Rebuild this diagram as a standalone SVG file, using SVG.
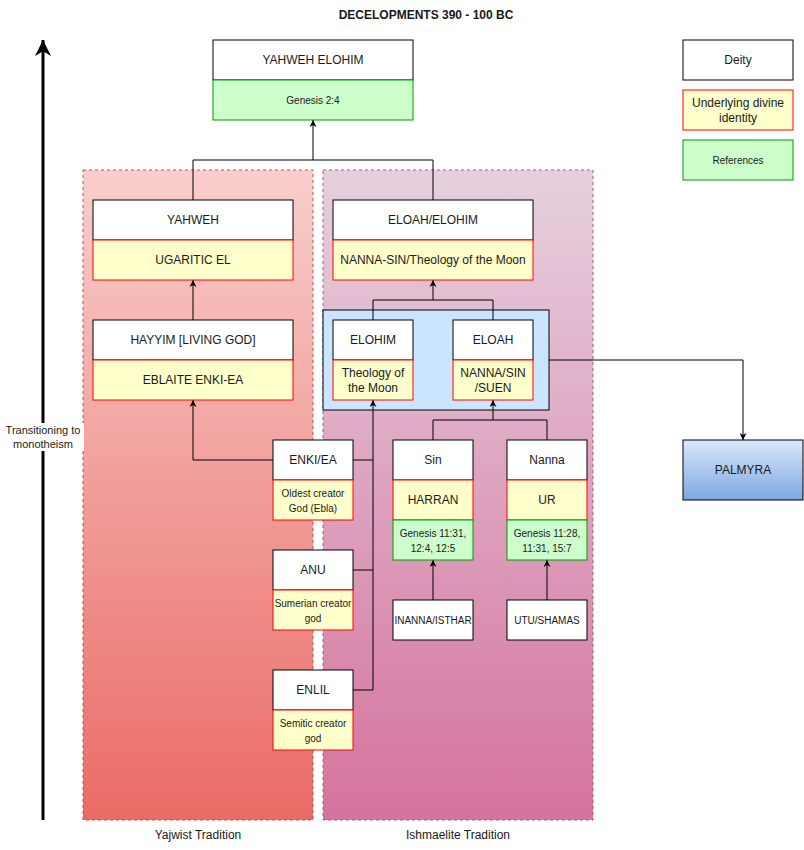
<svg xmlns="http://www.w3.org/2000/svg" width="804" height="850" viewBox="0 0 804 850">
<style>
text{font-family:"Liberation Sans",Arial,sans-serif;fill:#1a1a1a;text-anchor:middle;dominant-baseline:central}
.t12{font-size:12px}
.t10{font-size:10px}
.t11{font-size:11px}
.w{fill:#ffffff;stroke:#000000;stroke-width:1}
.y{fill:#ffffcc;stroke:#ff0000;stroke-width:1}
.g{fill:#ccffcc;stroke:#009900;stroke-width:1}
.c{fill:none;stroke:#000000;stroke-width:1}
</style>
<defs>
<linearGradient id="gl" x1="0" y1="0" x2="0" y2="1"><stop offset="0" stop-color="#f8cecc"/><stop offset="1" stop-color="#ea6b66"/></linearGradient>
<linearGradient id="gr" x1="0" y1="0" x2="0" y2="1"><stop offset="0" stop-color="#e6d0de"/><stop offset="1" stop-color="#d5739d"/></linearGradient>
<linearGradient id="gb" x1="0" y1="0" x2="0" y2="1"><stop offset="0" stop-color="#dae8fc"/><stop offset="1" stop-color="#7ea6e0"/></linearGradient>
<marker id="ah" viewBox="0 0 10 10" refX="10" refY="5" markerWidth="7" markerHeight="7" markerUnits="userSpaceOnUse" orient="auto"><path d="M0,0 L10,5 L0,10 L3,5 Z" fill="#000"/></marker>
<marker id="ahb" viewBox="0 0 10 10" refX="10" refY="5" markerWidth="16" markerHeight="16" markerUnits="userSpaceOnUse" orient="auto"><path d="M0,0 L10,5 L0,10 L3,5 Z" fill="#000"/></marker>
</defs>
<rect width="804" height="850" fill="#ffffff"/>
<text x="426" y="15" style="font-size:12px;font-weight:bold">DECELOPMENTS 390 - 100 BC</text>

<g id="panel-yajwist">
<rect x="83" y="170" width="230" height="650" fill="url(#gl)" stroke="#b85450" stroke-dasharray="3,3"/>
<text class="t12" x="198" y="835">Yajwist Tradition</text>
</g>
<g id="panel-ishmaelite">
<rect x="323" y="170" width="270" height="650" fill="url(#gr)" stroke="#996185" stroke-dasharray="3,3"/>
<text class="t12" x="458" y="835">Ishmaelite Tradition</text>
</g>

<g id="transition">
<line x1="43" y1="820" x2="43" y2="40" stroke="#000" stroke-width="3" marker-end="url(#ahb)"/>
<rect x="2" y="423" width="82" height="28" fill="#ffffff"/>
<text class="t11" x="43" y="430">Transitioning to</text>
<text class="t11" x="43" y="444">monotheism</text>
</g>

<g id="moon-group">
<rect x="323" y="310" width="226" height="100" fill="#cce5ff" stroke="#000"/>
</g>

<g id="connectors">
<polyline class="c" points="193,200 193,160 433,160 433,200"/>
<line class="c" x1="313" y1="160" x2="313" y2="120" marker-end="url(#ah)"/>
<line class="c" x1="193" y1="320" x2="193" y2="280" marker-end="url(#ah)"/>
<polyline class="c" points="273,460 193,460 193,400" marker-end="url(#ah)"/>
<polyline class="c" points="373,320 373,300 493,300 493,320"/>
<line class="c" x1="433" y1="300" x2="433" y2="280" marker-end="url(#ah)"/>
<polyline class="c" points="353,460 373,460"/>
<polyline class="c" points="353,570 373,570"/>
<polyline class="c" points="353,690 373,690 373,400" marker-end="url(#ah)"/>
<polyline class="c" points="433,440 433,420 547,420 547,440"/>
<line class="c" x1="493" y1="420" x2="493" y2="400" marker-end="url(#ah)"/>
<line class="c" x1="433" y1="600" x2="433" y2="560" marker-end="url(#ah)"/>
<line class="c" x1="547" y1="600" x2="547" y2="560" marker-end="url(#ah)"/>
<polyline class="c" points="549,360 743,360 743,440" marker-end="url(#ah)"/>
</g>

<g id="yahweh-elohim">
<rect class="w" x="213" y="40" width="200" height="40"/>
<text class="t12" x="313" y="60">YAHWEH ELOHIM</text>
<rect class="g" x="213" y="80" width="200" height="40"/>
<text class="t10" x="313" y="100">Genesis 2:4</text>
</g>

<g id="yahweh">
<rect class="w" x="93" y="200" width="200" height="40"/>
<text class="t12" x="193" y="220">YAHWEH</text>
<rect class="y" x="93" y="240" width="200" height="40"/>
<text class="t12" x="193" y="260">UGARITIC EL</text>
</g>

<g id="hayyim">
<rect class="w" x="93" y="320" width="200" height="40"/>
<text class="t12" x="193" y="340">HAYYIM [LIVING GOD]</text>
<rect class="y" x="93" y="360" width="200" height="40"/>
<text class="t12" x="193" y="380">EBLAITE ENKI-EA</text>
</g>

<g id="eloah-elohim">
<rect class="w" x="333" y="200" width="200" height="40"/>
<text class="t12" x="433" y="220">ELOAH/ELOHIM</text>
<rect class="y" x="333" y="240" width="200" height="40"/>
<text class="t12" x="433" y="260">NANNA-SIN/Theology of the Moon</text>
</g>

<g id="elohim">
<rect class="w" x="333" y="320" width="80" height="40"/>
<text class="t12" x="373" y="340">ELOHIM</text>
<rect class="y" x="333" y="360" width="80" height="40"/>
<text class="t12" x="373" y="373">Theology of</text>
<text class="t12" x="373" y="388">the Moon</text>
</g>

<g id="eloah">
<rect class="w" x="453" y="320" width="80" height="40"/>
<text class="t12" x="493" y="340">ELOAH</text>
<rect class="y" x="453" y="360" width="80" height="40"/>
<text class="t12" x="493" y="373">NANNA/SIN</text>
<text class="t12" x="493" y="388">/SUEN</text>
</g>

<g id="enki">
<rect class="w" x="273" y="440" width="80" height="40"/>
<text class="t12" x="313" y="460">ENKI/EA</text>
<rect class="y" x="273" y="480" width="80" height="40"/>
<text class="t10" x="313" y="493">Oldest creator</text>
<text class="t10" x="313" y="508">God (Ebla)</text>
</g>

<g id="anu">
<rect class="w" x="273" y="550" width="80" height="40"/>
<text class="t12" x="313" y="570">ANU</text>
<rect class="y" x="273" y="590" width="80" height="40"/>
<text class="t10" x="313" y="603">Sumerian creator</text>
<text class="t10" x="313" y="618">god</text>
</g>

<g id="enlil">
<rect class="w" x="273" y="670" width="80" height="40"/>
<text class="t12" x="313" y="690">ENLIL</text>
<rect class="y" x="273" y="710" width="80" height="40"/>
<text class="t10" x="313" y="723">Semitic creator</text>
<text class="t10" x="313" y="738">god</text>
</g>

<g id="sin">
<rect class="w" x="393" y="440" width="80" height="40"/>
<text class="t12" x="433" y="460">Sin</text>
<rect class="y" x="393" y="480" width="80" height="40"/>
<text class="t12" x="433" y="500">HARRAN</text>
<rect class="g" x="393" y="520" width="80" height="40"/>
<text class="t10" x="433" y="533">Genesis 11:31,</text>
<text class="t10" x="433" y="548">12:4, 12:5</text>
</g>

<g id="nanna">
<rect class="w" x="507" y="440" width="80" height="40"/>
<text class="t12" x="547" y="460">Nanna</text>
<rect class="y" x="507" y="480" width="80" height="40"/>
<text class="t12" x="547" y="500">UR</text>
<rect class="g" x="507" y="520" width="80" height="40"/>
<text class="t10" x="547" y="533">Genesis 11:28,</text>
<text class="t10" x="547" y="548">11:31, 15:7</text>
</g>

<g id="inanna">
<rect class="w" x="393" y="600" width="80" height="40"/>
<text class="t10" x="433" y="620">INANNA/ISTHAR</text>
</g>

<g id="utu">
<rect class="w" x="507" y="600" width="80" height="40"/>
<text class="t10" x="547" y="620">UTU/SHAMAS</text>
</g>

<g id="palmyra">
<rect x="683" y="440" width="120" height="60" fill="url(#gb)" stroke="#000"/>
<text class="t12" x="743" y="470">PALMYRA</text>
</g>

<g id="legend-deity">
<rect class="w" x="683" y="40" width="110" height="40"/>
<text class="t12" x="738" y="60">Deity</text>
</g>
<g id="legend-identity">
<rect class="y" x="683" y="90" width="110" height="40"/>
<text class="t12" x="738" y="103">Underlying divine</text>
<text class="t12" x="738" y="118">identity</text>
</g>
<g id="legend-references">
<rect class="g" x="683" y="140" width="110" height="40"/>
<text class="t10" x="738" y="160">References</text>
</g>
</svg>
